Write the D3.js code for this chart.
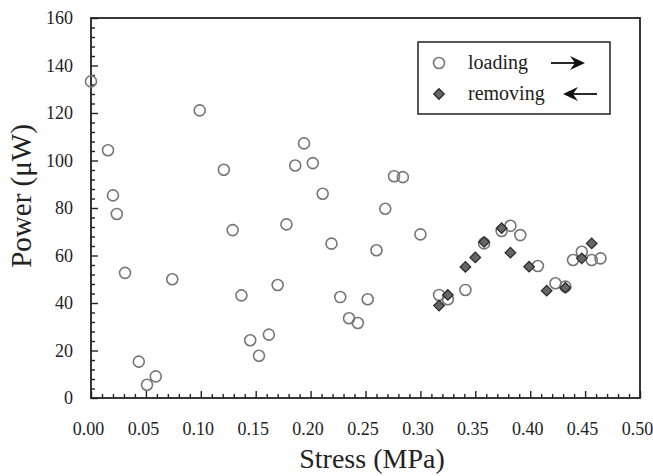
<!DOCTYPE html>
<html><head><meta charset="utf-8">
<script src="https://cdn.jsdelivr.net/npm/d3@7"></script>
<style>body{margin:0;background:#fff}svg{display:block}text{font-family:"Liberation Serif","Times New Roman",serif;fill:#222}</style>
</head><body>
<script>
const loadingX = [0.000,0.0155,0.020,0.0235,0.031,0.0435,0.051,0.059,0.074,0.099,0.121,0.129,0.137,0.145,0.153,0.162,0.170,0.178,0.186,0.194,0.202,0.211,0.219,0.227,0.235,0.243,0.252,0.260,0.268,0.276,0.284,0.300,
  0.317,0.325,0.341,0.358,0.374,0.382,0.391,0.407,0.423,0.432,0.439,0.447,0.456,0.464];
const loadingY = [133.3,104.3,85.3,77.5,52.7,15.3,5.6,9.1,50.0,121.1,96.1,70.7,43.2,24.3,17.8,26.7,47.6,73.1,97.9,107.2,98.9,86.0,65.0,42.5,33.6,31.6,41.6,62.2,79.7,93.4,93.0,68.9,
  43.4,41.6,45.5,65.1,70.3,72.5,68.6,55.6,48.3,46.9,58.1,61.6,58.1,58.8];
const removingX = [0.317,0.325,0.341,0.350,0.358,0.374,0.382,0.399,0.415,0.432,0.447,0.456];
const removingY = [38.9,43.4,55.2,59.2,65.7,71.5,61.2,55.3,45.2,46.4,58.8,65.1];
const xTicks = [0,0.05,0.10,0.15,0.20,0.25,0.30,0.35,0.40,0.45,0.50];
const yTicks = [0,20,40,60,80,100,120,140,160];
const seriesNames = ["loading","removing"];

const W=653,H=476;
const m={l:91,r:13,t:18,b:78};
const svg=d3.select("body").append("svg").attr("width",W).attr("height",H);
const x=d3.scaleLinear().domain([0,0.5]).range([m.l,W-m.r]);
const y=d3.scaleLinear().domain([0,160]).range([H-m.b,m.t]);

const xMinor=d3.range(0,0.5001,0.01).filter(v=>Math.abs(v*20-Math.round(v*20))>1e-6);
const yMinor=d3.range(0,160.01,4).filter(v=>v%20!==0);

svg.append("g").attr("transform",`translate(0,${y(0)})`)
  .call(d3.axisBottom(x).tickValues(xMinor).tickSize(-4).tickFormat(""));
const gxM=svg.append("g").attr("transform",`translate(0,${y(0)})`)
  .call(d3.axisBottom(x).tickValues(xTicks).tickSize(-7).tickPadding(24).tickFormat(d3.format(".2f")));
svg.append("g").attr("transform",`translate(${x(0)},0)`)
  .call(d3.axisLeft(y).tickValues(yMinor).tickSize(-4).tickFormat(""));
svg.append("g").attr("transform",`translate(${x(0)},0)`)
  .call(d3.axisLeft(y).tickValues(yTicks).tickSize(-7).tickPadding(18).tickFormat(d3.format("d")));
svg.selectAll(".domain").remove();
svg.selectAll(".tick line").attr("stroke","#222").attr("stroke-width",1.4);
svg.selectAll(".tick text").attr("font-size",18).attr("font-family","Liberation Serif").attr("fill","#222");
gxM.selectAll(".tick text").attr("dx",-3);

svg.append("rect").attr("x",x(0)).attr("y",y(160)).attr("width",x(0.5)-x(0)).attr("height",y(0)-y(160))
  .attr("fill","none").attr("stroke","#222").attr("stroke-width",1.8);

const plot=svg.append("g");
plot.selectAll("circle.ld").data(loadingX.map((v,i)=>[v,loadingY[i]])).join("circle")
  .attr("cx",d=>x(d[0])).attr("cy",d=>y(d[1])).attr("r",5.5)
  .attr("fill","none").attr("stroke","#767676").attr("stroke-width",1.6);
const diamond=d3.symbol().type(d3.symbolDiamond2).size(70);
plot.selectAll("path.rm").data(removingX.map((v,i)=>[v,removingY[i]])).join("path")
  .attr("transform",d=>`translate(${x(d[0])},${y(d[1])})`)
  .attr("d",diamond).attr("fill","#666").attr("stroke","#2a2a2a").attr("stroke-width",1.3);

svg.append("text").attr("x",372).attr("y",468).attr("text-anchor","middle").attr("font-size",28).text("Stress (MPa)");
svg.append("text").attr("transform","translate(31,196) rotate(-90)").attr("text-anchor","middle").attr("font-size",29).text("Power (\u03bcW)");

const lg=svg.append("g");
lg.append("rect").attr("x",418).attr("y",42).attr("width",192).attr("height",72).attr("fill","#fff").attr("stroke","#222").attr("stroke-width",1.5);
lg.append("circle").attr("cx",439).attr("cy",63).attr("r",5.5).attr("fill","none").attr("stroke","#767676").attr("stroke-width",1.6);
lg.append("path").attr("transform","translate(439,94)").attr("d",diamond).attr("fill","#666").attr("stroke","#2a2a2a").attr("stroke-width",1.3);
lg.append("text").attr("x",468).attr("y",69).attr("font-size",20).text(seriesNames[0]);
lg.append("text").attr("x",468).attr("y",100).attr("font-size",20).text(seriesNames[1]);
function arrow(x1,x2,yy){
  const dir=Math.sign(x2-x1);
  lg.append("line").attr("x1",x1).attr("x2",x2-dir*8).attr("y1",yy).attr("y2",yy).attr("stroke","#111").attr("stroke-width",1.8);
  lg.append("path").attr("d",`M${x2},${yy} L${x2-dir*15},${yy-7} L${x2-dir*10},${yy} L${x2-dir*15},${yy+7} Z`).attr("fill","#111");
}
arrow(551,585,63);
arrow(597,563,94);
</script>
</body></html>
